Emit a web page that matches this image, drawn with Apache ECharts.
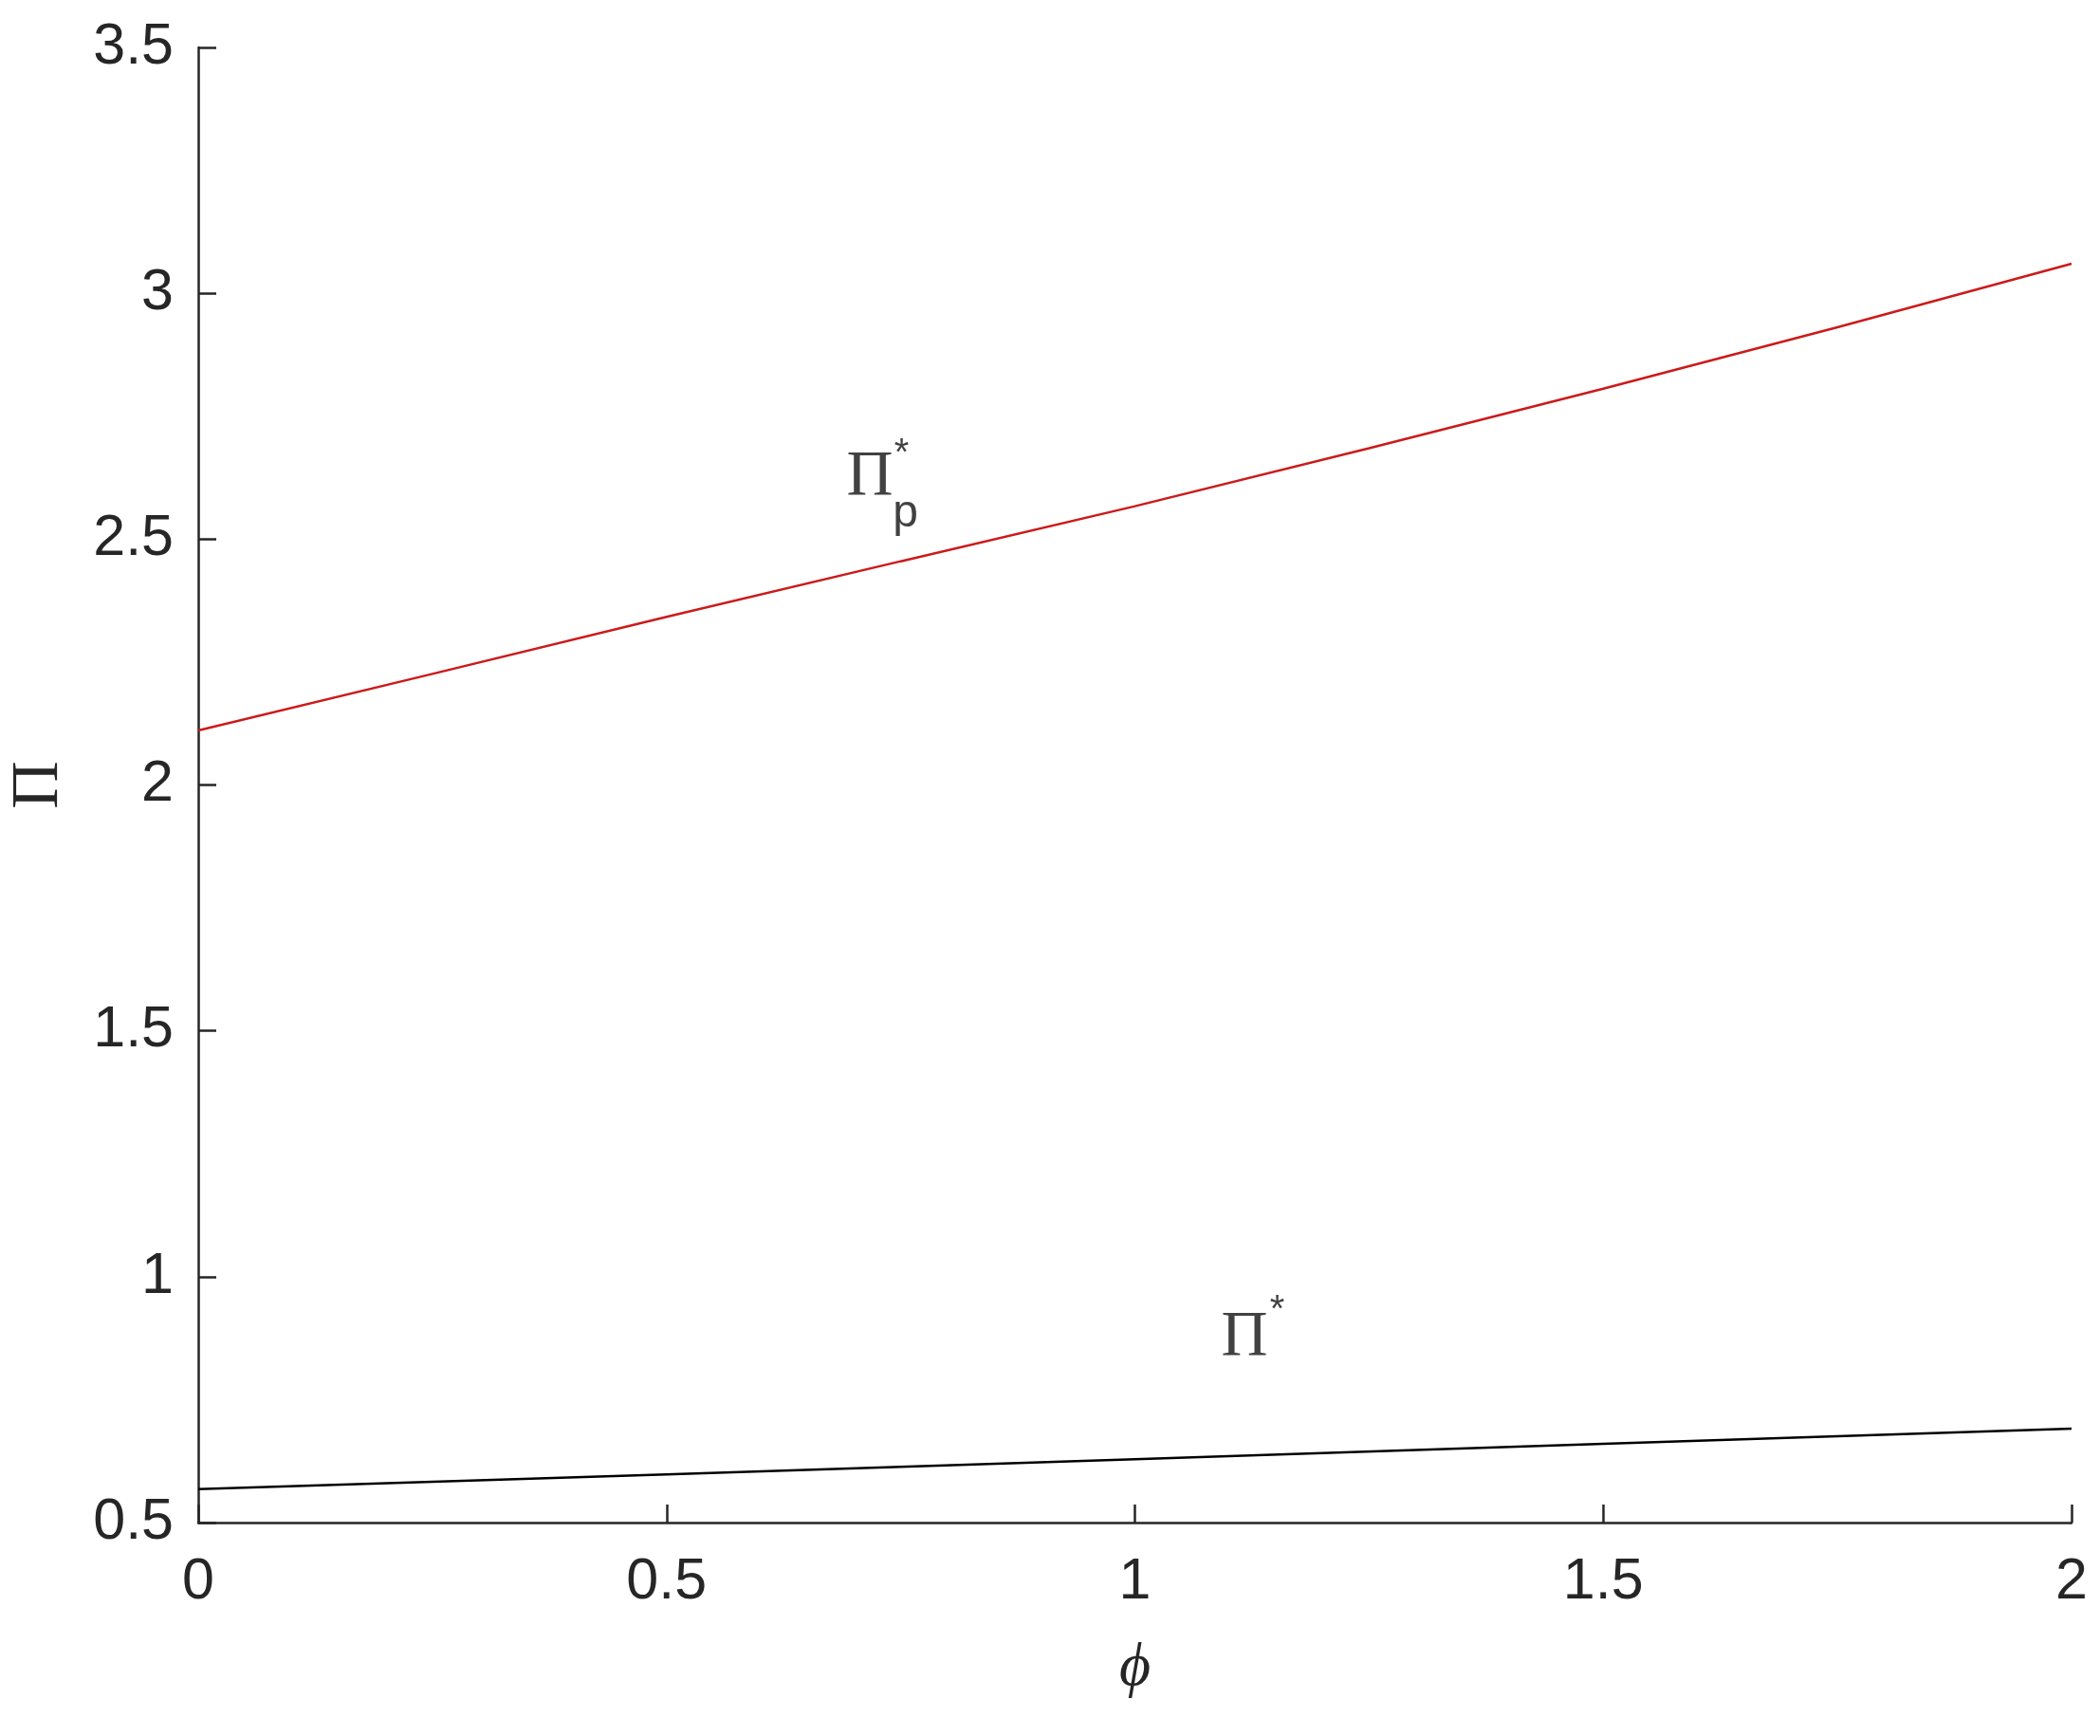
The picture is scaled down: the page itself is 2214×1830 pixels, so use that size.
<!DOCTYPE html>
<html>
<head>
<meta charset="utf-8">
<script src="https://cdn.jsdelivr.net/npm/echarts@6/dist/echarts.min.js"></script>
<style>
html,body{margin:0;padding:0;background:#fff;}
#chart{width:2214px;height:1830px;}
</style>
</head>
<body>
<div id="chart"></div>
<script>
// Data
const phiRed = [0, 0.25, 0.5, 0.75, 1, 1.25, 1.5, 1.75, 2];
const piPValues = [2.111, 2.226, 2.342, 2.455, 2.567, 2.685, 2.806, 2.931, 3.060];
const phiBlack = [0, 0.5, 1, 1.5, 2];
const piValues = [0.568, 0.598, 0.629, 0.660, 0.691];
const xTicks = [0, 0.5, 1, 1.5, 2];
const yTicks = [0.5, 1, 1.5, 2, 2.5, 3, 3.5];
// annotation anchor points (data units)
const annPiP = [0.717, 2.626];
const annPiPStar = [0.751, 2.672];
const annPiPSub = [0.755, 2.551];
const annPi = [1.117, 0.876];
const annPiStar = [1.152, 0.930];

const axisColor = '#262626';
const chart = echarts.init(document.getElementById('chart'));
function lbl(text, font, size, style) {
  return {
    show: true, position: 'inside', formatter: text,
    fontFamily: font, fontSize: size, fontStyle: style || 'normal', color: '#111'
  };
}
function ann(pt, label) {
  return {
    type: 'scatter', symbolSize: 0, silent: true, z: 5,
    data: [pt], label: label
  };
}
chart.setOption({
  animation: false,
  backgroundColor: '#fff',
  grid: { left: 209, right: 30, top: 50, bottom: 225, containLabel: false, outerBoundsMode: 'none' },
  xAxis: {
    type: 'value', min: xTicks[0], max: xTicks[xTicks.length - 1], interval: 0.5,
    name: 'ϕ', nameLocation: 'middle', nameGap: 122,
    nameTextStyle: { fontFamily: 'Liberation Serif', fontStyle: 'italic', fontSize: 64, color: axisColor },
    axisLine: { show: true, onZero: false, lineStyle: { color: axisColor, width: 2.5 } },
    axisTick: { show: true, inside: true, length: 19, lineStyle: { color: axisColor, width: 2.5 } },
    axisLabel: { fontFamily: 'Liberation Sans', fontSize: 61, color: axisColor, margin: 33 },
    splitLine: { show: false }
  },
  yAxis: {
    type: 'value', min: yTicks[0], max: yTicks[yTicks.length - 1], interval: 0.5,
    name: 'Π', nameLocation: 'middle', nameGap: 132,
    nameTextStyle: { fontFamily: 'Liberation Serif', fontSize: 70, color: axisColor },
    axisLine: { show: true, onZero: false, lineStyle: { color: axisColor, width: 2.5 } },
    axisTick: { show: true, inside: true, length: 19, lineStyle: { color: axisColor, width: 2.5 } },
    axisLabel: { fontFamily: 'Liberation Sans', fontSize: 61, color: axisColor, margin: 26 },
    splitLine: { show: false }
  },
  series: [
    {
      type: 'line', name: 'Πp*', showSymbol: false, symbol: 'none',
      data: phiRed.map((x, i) => [x, piPValues[i]]),
      lineStyle: { color: '#cc1a1a', width: 2.5 }
    },
    {
      type: 'line', name: 'Π*', showSymbol: false, symbol: 'none',
      data: phiBlack.map((x, i) => [x, piValues[i]]),
      lineStyle: { color: '#000', width: 2.5 }
    },
    ann(annPiP, lbl('Π', 'Liberation Serif', 68)),
    ann(annPiPStar, lbl('*', 'Liberation Sans', 40)),
    ann(annPiPSub, lbl('p', 'Liberation Sans', 48)),
    ann(annPi, lbl('Π', 'Liberation Serif', 68)),
    ann(annPiStar, lbl('*', 'Liberation Sans', 40))
  ]
});
</script>
</body>
</html>
